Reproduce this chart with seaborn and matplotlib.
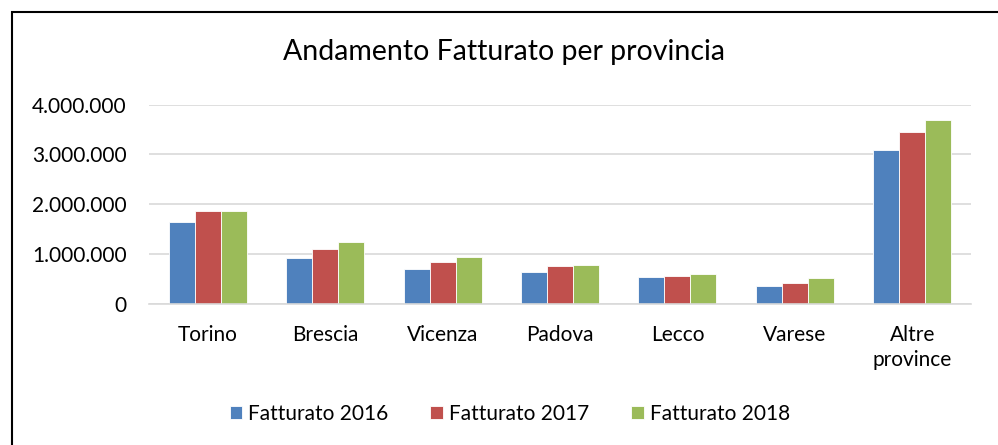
import pandas as pd
import matplotlib.pyplot as plt
import seaborn as sns
from matplotlib.patches import Rectangle
from matplotlib.ticker import FuncFormatter

# Dati
province = ['Torino', 'Brescia', 'Vicenza', 'Padova', 'Lecco', 'Varese', 'Altre\nprovince']
fatt_2016 = [1650000, 920000, 705000, 630000, 530000, 355000, 3090000]
fatt_2017 = [1865000, 1090000, 830000, 757000, 556000, 422000, 3457000]
fatt_2018 = [1870000, 1233000, 930000, 777000, 596000, 509000, 3692000]
serie = ['Fatturato 2016', 'Fatturato 2017', 'Fatturato 2018']
colori = ['#4F81BD', '#C0504D', '#9BBB59']

df = pd.DataFrame({'provincia': province * 3,
                   'serie': [s for s in serie for _ in province],
                   'valore': fatt_2016 + fatt_2017 + fatt_2018})

sns.set_theme(style='white')
plt.rcParams['font.family'] = ['Lato', 'DejaVu Sans']
plt.rcParams['text.color'] = 'black'

fig = plt.figure(figsize=(9.98, 4.45), dpi=100)
ax = fig.add_axes([0.1493, 0.3175, 0.8236, 0.4472])

sns.barplot(data=df, x='provincia', y='valore', hue='serie', palette=colori,
            saturation=1, width=0.664, gap=0, edgecolor='white', linewidth=0.6, ax=ax)

ax.set_ylim(0, 4000000)
ax.set_yticks([0, 1000000, 2000000, 3000000, 4000000])
ax.yaxis.set_major_formatter(FuncFormatter(lambda v, p: f'{int(v):,}'.replace(',', '.')))
ax.grid(axis='y', color='#D9D9D9', linewidth=1.2)
ax.set_axisbelow(True)
for s in ['top', 'right', 'left']:
    ax.spines[s].set_visible(False)
ax.spines['bottom'].set_color('#D9D9D9')
ax.spines['bottom'].set_linewidth(1.2)
ax.tick_params(axis='both', length=0, labelsize=15, colors='black')
ax.tick_params(axis='y', pad=16)
ax.tick_params(axis='x', pad=15)
for lab in ax.get_xticklabels():
    lab.set_linespacing(1.35)
ax.set_xlabel('')
ax.set_ylabel('')

ax.legend(loc='center', bbox_to_anchor=(0.439, -0.554), ncol=3, frameon=False,
          fontsize=15, handlelength=0.6, handleheight=0.6, handletextpad=0.3,
          columnspacing=2.0)

fig.text(0.505, 0.883, 'Andamento Fatturato per provincia', ha='center', va='center',
         fontsize=20.5, color='black')

# cornice del grafico
fig.patches.append(Rectangle((12 / 998, -0.1), 1.2, 1 - 12.5 / 445 + 0.1,
                             transform=fig.transFigure, fill=False,
                             edgecolor='black', linewidth=1.5, clip_on=False))

fig.savefig('out.png', dpi=100)
